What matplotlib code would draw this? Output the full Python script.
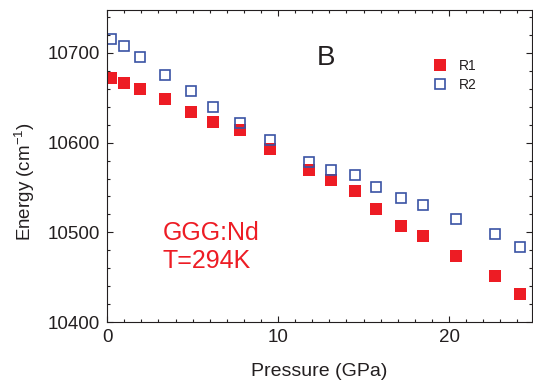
import numpy as np
import matplotlib
matplotlib.use("Agg")
import matplotlib.pyplot as plt
from matplotlib.ticker import MultipleLocator

plt.rcParams['font.family'] = ['Liberation Sans', 'DejaVu Sans']
plt.rcParams['text.color'] = '#231f20'
plt.rcParams['axes.labelcolor'] = '#231f20'
plt.rcParams['xtick.labelcolor'] = '#231f20'
plt.rcParams['ytick.labelcolor'] = '#231f20'

# ---------- Data ----------
pressure = [0.23, 1.0, 1.93, 3.39, 4.89, 6.22, 7.78, 9.53, 11.8, 13.1, 14.5,
            15.75, 17.2, 18.5, 20.4, 22.7, 24.15]
r1_energy = [10672, 10667, 10660, 10649, 10634, 10623, 10614, 10593, 10570,
             10558, 10546, 10526, 10507, 10496, 10474, 10451, 10431]
r2_energy = [10716, 10708, 10695, 10676, 10658, 10640, 10622, 10603, 10578,
             10569, 10564, 10551, 10538, 10530, 10515, 10498, 10484]

RED = "#ED1C24"
BLUE = "#3A53A4"

# ---------- Plot ----------
fig = plt.figure(figsize=(5.33, 3.82), dpi=100)
ax = fig.add_axes([0.201, 0.157, 0.797, 0.817])

ax.plot(pressure, r1_energy, 's', color=RED, markersize=8.5, markeredgewidth=0,
        linestyle='none', label='R1')
ax.plot(pressure, r2_energy, 's', markerfacecolor='none', markeredgecolor=BLUE,
        markersize=7.8, markeredgewidth=1.2, linestyle='none', label='R2')

ax.set_xlim(0, 24.85)
ax.set_ylim(10400, 10748)
ax.xaxis.set_major_locator(MultipleLocator(10))
ax.xaxis.set_minor_locator(MultipleLocator(1))
ax.yaxis.set_major_locator(MultipleLocator(100))
ax.yaxis.set_minor_locator(MultipleLocator(20))
ax.tick_params(which='both', direction='in', top=True, right=True,
               labelsize=13.5, width=0.8, color='#231f20')
ax.tick_params(which='major', length=4.5, pad=5)
ax.tick_params(which='minor', length=2.5)
for sp in ax.spines.values():
    sp.set_linewidth(0.8)
    sp.set_color('#231f20')

ax.set_xlabel("Pressure (GPa)", fontsize=14, labelpad=12)
ax.set_ylabel("Energy (cm$^{\\mathregular{-1}}$)", fontsize=13.5)
ax.yaxis.set_label_coords(-0.165, 0.45)

ax.text(0.515, 0.845, "B", transform=ax.transAxes, fontsize=20,
        ha='center', va='center')
ax.text(0.13, 0.285, "GGG:Nd", transform=ax.transAxes, fontsize=18,
        color=RED, ha='left', va='center')
ax.text(0.13, 0.195, "T=294K", transform=ax.transAxes, fontsize=18,
        color=RED, ha='left', va='center')

ax.legend(loc='upper left', bbox_to_anchor=(0.75, 0.865), frameon=False,
          fontsize=10, handlelength=1.0, handletextpad=0.9, labelspacing=0.35,
          borderpad=0)

fig.savefig("out.png", dpi=100)
